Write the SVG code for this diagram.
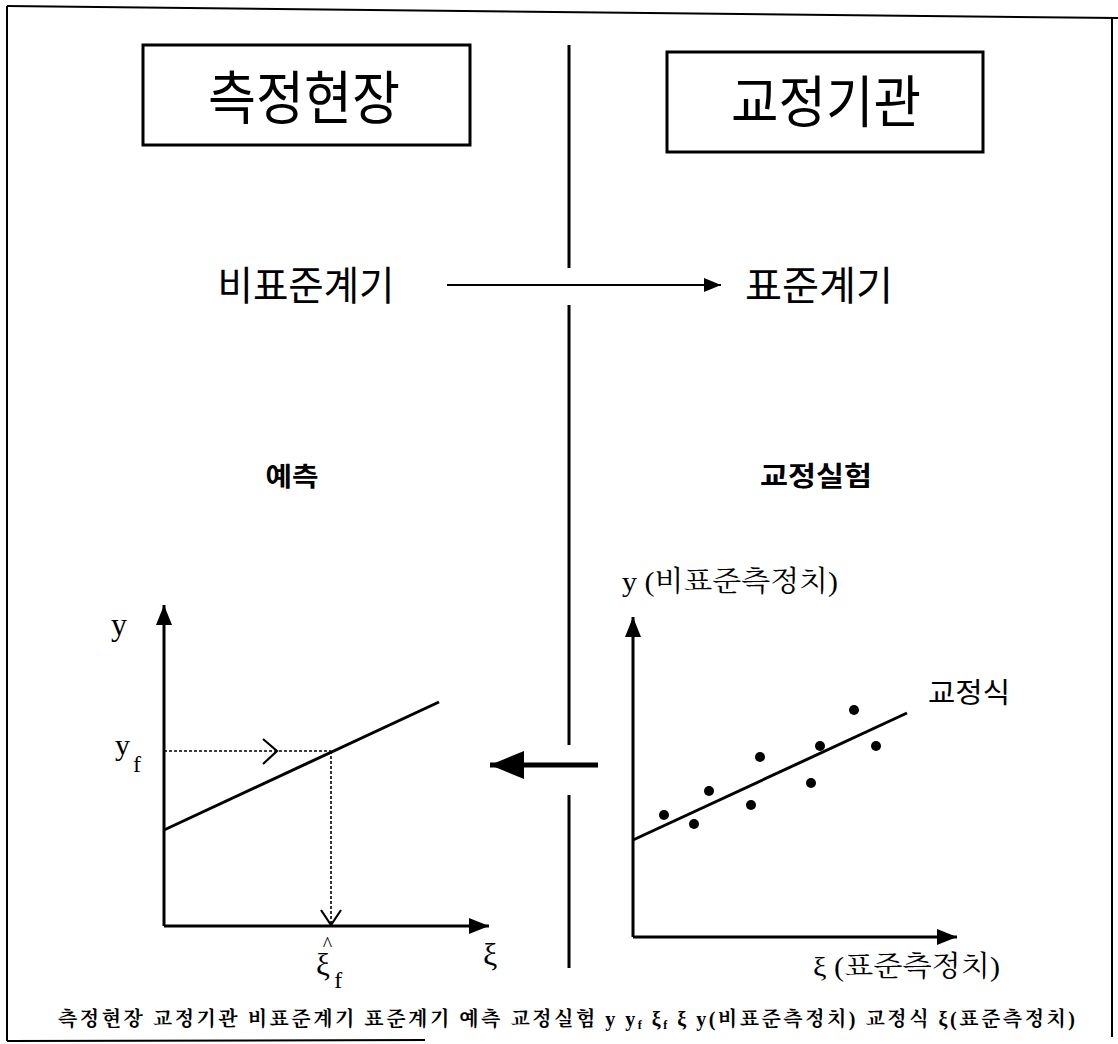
<svg xmlns="http://www.w3.org/2000/svg" width="1118" height="1044" viewBox="0 0 1118 1044">
<style>
.ln{stroke:#000;fill:none}
.kr{font-family:"Noto Sans CJK KR","Noto Sans CJK SC",sans-serif;fill:#000}
.sr{font-family:"Liberation Serif","Noto Serif CJK KR","Noto Sans CJK KR",serif;fill:#000}
.box{fill:#fff;stroke:#000;stroke-width:3}
.axis{stroke:#000;stroke-width:3;fill:none}
.dash{stroke:#000;stroke-width:1.6;fill:none;stroke-dasharray:3 2}
.dot{fill:#000}
</style>
<defs>
<marker id="axisHead" markerUnits="userSpaceOnUse" markerWidth="22" markerHeight="18" refX="20" refY="9" orient="auto">
<path d="M0,1 L20,9 L0,17 Z" fill="#000"/>
</marker>
<marker id="thinHead" markerUnits="userSpaceOnUse" markerWidth="18" markerHeight="16" refX="17" refY="8" orient="auto">
<path d="M0,1 L17,8 L0,15 Z" fill="#000"/>
</marker>
<marker id="bigHead" markerUnits="userSpaceOnUse" markerWidth="36" markerHeight="32" refX="34" refY="16" orient="auto">
<path d="M0,2 L34,16 L0,30 Z" fill="#000"/>
</marker>
</defs>

<g id="frame">
<line class="ln" x1="7" y1="6" x2="1118" y2="18" stroke-width="2"/>
<line class="ln" x1="7" y1="6" x2="7" y2="1041" stroke-width="2"/>
<line class="ln" x1="7" y1="1041" x2="425" y2="1040" stroke-width="2"/>
<line class="ln" x1="1112" y1="18" x2="1112" y2="1037" stroke-width="2"/>
</g>

<g id="divider">
<line class="ln" x1="569" y1="45" x2="569" y2="268" stroke-width="3"/>
<line class="ln" x1="569" y1="305" x2="569" y2="745" stroke-width="3"/>
<line class="ln" x1="569" y1="795" x2="569" y2="968" stroke-width="3"/>
</g>

<g id="node-site">
<rect class="box" x="143" y="45" width="327" height="100"/>
<text class="kr" x="304" y="119" font-size="58" text-anchor="middle" textLength="192" lengthAdjust="spacingAndGlyphs">측정현장</text>
</g>

<g id="node-lab">
<rect class="box" x="667" y="52" width="316" height="100"/>
<text class="kr" x="826" y="122" font-size="56" text-anchor="middle" textLength="190" lengthAdjust="spacingAndGlyphs">교정기관</text>
</g>

<g id="node-nonstd">
<text class="kr" x="306" y="300" font-size="40" text-anchor="middle" textLength="177" lengthAdjust="spacingAndGlyphs">비표준계기</text>
</g>

<g id="node-std">
<text class="kr" x="819" y="300" font-size="40" text-anchor="middle" textLength="148" lengthAdjust="spacingAndGlyphs">표준계기</text>
</g>

<g id="node-predict">
<text class="kr" x="292" y="486" font-size="26" font-weight="700" text-anchor="middle" textLength="53" lengthAdjust="spacingAndGlyphs">예측</text>
</g>

<g id="node-calexp">
<text class="kr" x="816" y="486" font-size="27" font-weight="700" text-anchor="middle" textLength="112" lengthAdjust="spacingAndGlyphs">교정실험</text>
</g>

<g id="node-plot-left">
<line class="axis" x1="164" y1="926" x2="164" y2="605" marker-end="url(#axisHead)"/>
<line class="axis" x1="164" y1="926" x2="489" y2="926" marker-end="url(#axisHead)"/>
<line class="axis" x1="164" y1="830" x2="439" y2="702"/>
<line class="dash" x1="164" y1="751" x2="331" y2="751"/>
<path class="ln" stroke-width="2.2" d="M263,739 L277,751 L263,764"/>
<line class="dash" x1="331" y1="751" x2="331" y2="924"/>
<path class="ln" stroke-width="2.2" d="M321,910 L331,925 L341,910"/>
<text class="sr" x="111" y="635" font-size="32">y</text>
<text class="sr" x="115" y="755" font-size="30">y</text>
<text class="sr" x="133" y="772" font-size="24">f</text>
<text class="sr" x="316" y="975" font-size="31">ξ<tspan font-size="20" dx="-7" dy="-24">^</tspan><tspan font-size="24" dx="2" dy="37">f</tspan></text>
<text class="sr" x="483" y="965" font-size="32">ξ</text>
</g>

<g id="node-plot-right">
<line class="axis" x1="633" y1="937" x2="633" y2="617" marker-end="url(#axisHead)"/>
<line class="axis" x1="633" y1="937" x2="957" y2="937" marker-end="url(#axisHead)"/>
<line class="axis" x1="633" y1="840" x2="907" y2="713"/>
<circle class="dot" cx="664" cy="815" r="5"/>
<circle class="dot" cx="694" cy="824" r="5"/>
<circle class="dot" cx="709" cy="791" r="5"/>
<circle class="dot" cx="751" cy="805" r="5"/>
<circle class="dot" cx="760" cy="757" r="5"/>
<circle class="dot" cx="811" cy="783" r="5"/>
<circle class="dot" cx="820" cy="746" r="5"/>
<circle class="dot" cx="854" cy="710" r="5"/>
<circle class="dot" cx="876" cy="746" r="5"/>
<text class="sr" x="622" y="591" font-size="28" textLength="216" lengthAdjust="spacingAndGlyphs">y (비표준측정치)</text>
<text class="kr" x="928" y="703" font-size="28" textLength="82" lengthAdjust="spacingAndGlyphs">교정식</text>
<text class="sr" x="813" y="976" font-size="28" textLength="187" lengthAdjust="spacingAndGlyphs">ξ (표준측정치)</text>
</g>

<g id="connectors">
<line class="ln" x1="447" y1="285" x2="721" y2="285" stroke-width="2" marker-end="url(#thinHead)"/>
<line class="ln" x1="598" y1="765" x2="490" y2="765" stroke-width="5" marker-end="url(#bigHead)"/>
</g>

<g id="caption">
<text class="sr" x="58" y="1026" font-size="20" font-weight="700" textLength="1017" lengthAdjust="spacing">측정현장 교정기관 비표준계기 표준계기 예측 교정실험 y y<tspan font-size="12" dy="3">f</tspan><tspan dy="-3"> ξ</tspan><tspan font-size="12" dy="3">f</tspan><tspan dy="-3"> ξ y(비표준측정치) 교정식 ξ(표준측정치)</tspan></text>
</g>
</svg>
